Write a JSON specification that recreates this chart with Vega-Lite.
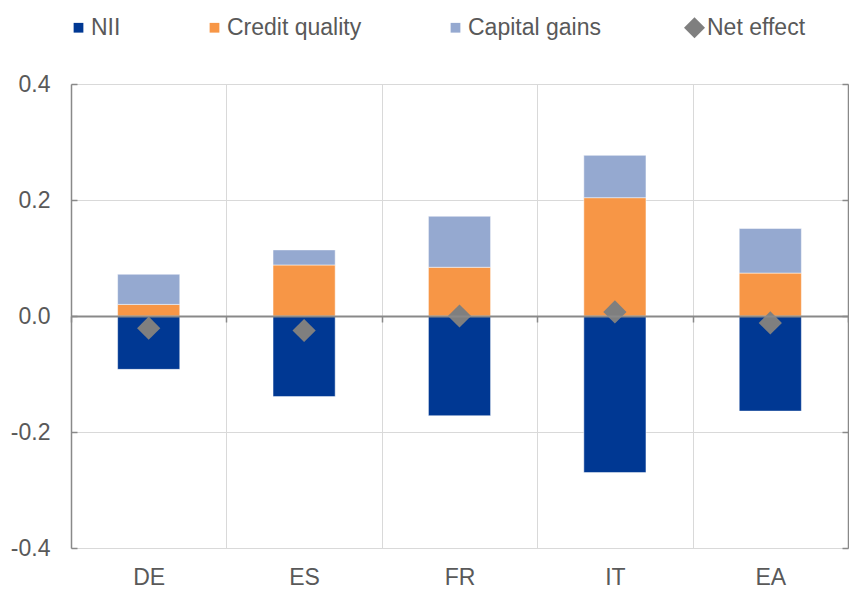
{
  "$schema": "https://vega.github.io/schema/vega-lite/v6.json",
  "width": 777,
  "height": 464,
  "autosize": "none",
  "padding": {"left": 71, "top": 84, "right": 1, "bottom": 41},
  "background": "white",
  "config": {
    "view": {"stroke": null},
    "font": "Liberation Sans",
    "axis": {"labelFont": "Liberation Sans", "labelFontSize": 23, "labelColor": "#595959", "title": null}
  },
  "data": {
    "values": [
      {"country": "DE", "series": "NII", "value": -0.092, "ord": 0},
      {"country": "DE", "series": "Credit quality", "value": 0.020, "ord": 1},
      {"country": "DE", "series": "Capital gains", "value": 0.052, "ord": 2},
      {"country": "DE", "series": "Net effect", "value": -0.021, "ord": 3},
      {"country": "ES", "series": "NII", "value": -0.139, "ord": 0},
      {"country": "ES", "series": "Credit quality", "value": 0.088, "ord": 1},
      {"country": "ES", "series": "Capital gains", "value": 0.026, "ord": 2},
      {"country": "ES", "series": "Net effect", "value": -0.025, "ord": 3},
      {"country": "FR", "series": "NII", "value": -0.172, "ord": 0},
      {"country": "FR", "series": "Credit quality", "value": 0.084, "ord": 1},
      {"country": "FR", "series": "Capital gains", "value": 0.088, "ord": 2},
      {"country": "FR", "series": "Net effect", "value": 0.0, "ord": 3},
      {"country": "IT", "series": "NII", "value": -0.270, "ord": 0},
      {"country": "IT", "series": "Credit quality", "value": 0.204, "ord": 1},
      {"country": "IT", "series": "Capital gains", "value": 0.073, "ord": 2},
      {"country": "IT", "series": "Net effect", "value": 0.007, "ord": 3},
      {"country": "EA", "series": "NII", "value": -0.164, "ord": 0},
      {"country": "EA", "series": "Credit quality", "value": 0.074, "ord": 1},
      {"country": "EA", "series": "Capital gains", "value": 0.077, "ord": 2},
      {"country": "EA", "series": "Net effect", "value": -0.012, "ord": 3}
    ]
  },
  "layer": [
    {
      "transform": [{"filter": "datum.series !== 'Net effect'"}],
      "mark": {"type": "bar", "stroke": "#ffffff", "strokeWidth": 0.5, "width": {"band": 0.4}},
      "encoding": {
        "x": {
          "field": "country", "type": "nominal", "sort": ["DE", "ES", "FR", "IT", "EA"],
          "scale": {"paddingInner": 0, "paddingOuter": 0},
          "axis": {"orient": "bottom", "labelAngle": 0, "ticks": false, "domain": false, "tickBand": "extent", "grid": true, "gridColor": "#d9d9d9", "gridWidth": 1, "labelPadding": 18}
        },
        "y": {
          "field": "value", "type": "quantitative", "stack": "zero",
          "scale": {"domain": [-0.4, 0.4], "nice": false, "zero": false},
          "axis": {"orient": "left", "values": [-0.4, -0.2, 0, 0.2, 0.4], "labelExpr": "(datum.value < -0.0001 ? '-' : '') + format(abs(datum.value), '.1f')", "grid": true, "gridColor": "#d9d9d9", "gridWidth": 1, "domainColor": "#898989", "domainWidth": 1.5, "tickColor": "#898989", "tickWidth": 1.5, "tickSize": -6, "labelPadding": 27}
        },
        "color": {
          "field": "series", "type": "nominal",
          "scale": {"domain": ["NII", "Credit quality", "Capital gains", "Net effect"], "range": ["#003893", "#F79646", "#95A9D0", "#7F7F7F"]},
          "legend": {
            "orient": "none", "legendX": -4, "legendY": -68, "direction": "horizontal", "title": null,
            "padding": 0, "columnPadding": 82, "labelOffset": 1,
            "labelFont": "Liberation Sans", "labelFontSize": 23, "labelColor": "#595959",
            "symbolSize": 100, "symbolStrokeWidth": 0, "symbolOpacity": 1,
            "encode": {"symbols": {"update": {
              "shape": {"signal": "datum.value === 'Net effect' ? 'diamond' : 'square'"},
              "size": {"signal": "datum.value === 'Net effect' ? 440 : 95"}
            }}}
          }
        },
        "order": {"field": "ord", "type": "quantitative"}
      }
    },
    {
      "transform": [{"filter": "datum.series === 'Net effect'"}],
      "mark": {"type": "point", "shape": "diamond", "filled": true, "size": 540, "opacity": 1, "strokeWidth": 0},
      "encoding": {
        "x": {
          "field": "country", "type": "nominal", "sort": ["DE", "ES", "FR", "IT", "EA"],
          "axis": {"orient": "bottom", "offset": -232, "labels": false, "ticks": true, "tickSize": 6, "tickBand": "extent", "tickColor": "#898989", "tickWidth": 1.5, "domain": true, "domainColor": "#898989", "domainWidth": 2, "grid": false, "zindex": 1}
        },
        "y": {
          "field": "value", "type": "quantitative",
          "axis": {"orient": "right", "values": [-0.4, -0.2, 0, 0.2, 0.4], "labels": false, "grid": false, "domainColor": "#898989", "domainWidth": 1.5, "tickColor": "#898989", "tickWidth": 1.5, "tickSize": -6}
        },
        "color": {
          "field": "series", "type": "nominal",
          "legend": {
            "orient": "none", "legendX": -4, "legendY": -68, "direction": "horizontal", "title": null,
            "padding": 0, "columnPadding": 82, "labelOffset": 1,
            "labelFont": "Liberation Sans", "labelFontSize": 23, "labelColor": "#595959",
            "symbolSize": 100, "symbolStrokeWidth": 0, "symbolOpacity": 1,
            "encode": {"symbols": {"update": {
              "shape": {"signal": "datum.value === 'Net effect' ? 'diamond' : 'square'"},
              "size": {"signal": "datum.value === 'Net effect' ? 440 : 95"}
            }}}
          }
        }
      }
    }
  ],
  "resolve": {"axis": {"x": "independent", "y": "independent"}}
}
